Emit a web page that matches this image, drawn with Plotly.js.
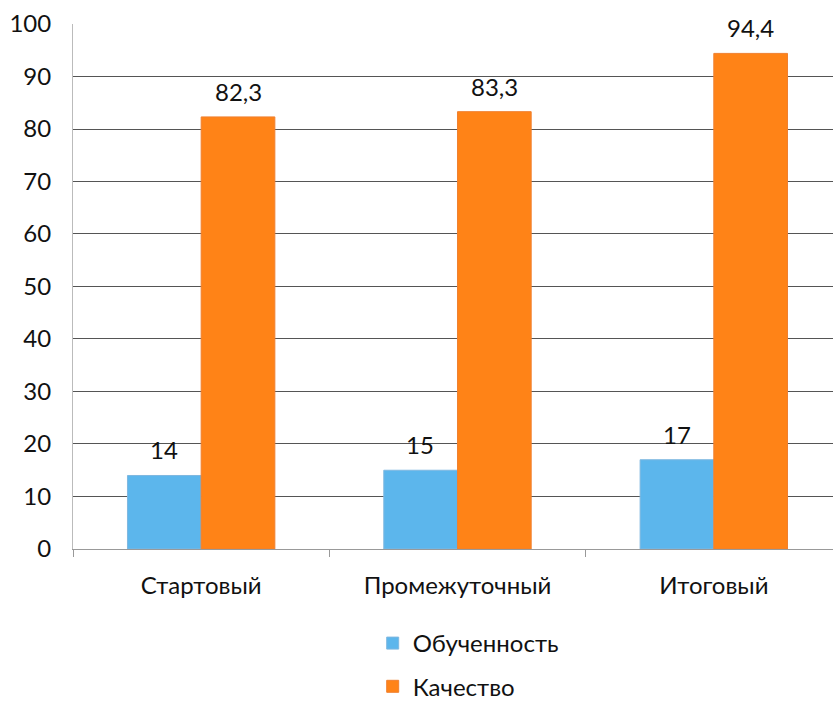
<!DOCTYPE html>
<html><head><meta charset="utf-8">
<script src="https://cdn.plot.ly/plotly-3.0.1.min.js"></script>
<style>html,body{margin:0;padding:0;background:#fff}</style>
</head><body><div id="chart" style="width:833px;height:709px"></div>
<script>
const categories = ['Стартовый', 'Промежуточный', 'Итоговый'];
const obuchennost = [14, 15, 17];
const kachestvo = [82.3, 83.3, 94.4];
const seriesNames = ['Обученность', 'Качество'];
const yTicks = [0, 10, 20, 30, 40, 50, 60, 70, 80, 90, 100];

const fmt = v => String(v).replace('.', ',');
const FONT = 'Lato, "Open Sans", sans-serif';
const FS = 24;

const traces = [
  {type:'bar', name:seriesNames[0], x:categories, y:obuchennost,
   marker:{color:'#5CB6EC', line:{color:'#7FB8E0', width:1}}, legendgroup:'a'},
  {type:'bar', name:seriesNames[1], x:categories, y:kachestvo,
   marker:{color:'#FF8317', line:{color:'#F08030', width:1}}, legendgroup:'b'}
];

const annotations = [];
[[obuchennost, -37], [kachestvo, 37]].forEach(([vals, dx]) => {
  vals.forEach((v, i) => annotations.push({
    x: categories[i], y: v, xref:'x', yref:'y', text: fmt(v), showarrow:false,
    xshift: dx, yanchor:'bottom', yshift: 9, font:{size:FS, family:FONT, color:'#111'}
  }));
});

const layout = {
  width:833, height:709,
  margin:{l:73, r:0, t:24, b:0},
  paper_bgcolor:'#fff', plot_bgcolor:'#fff',
  font:{family:FONT, size:FS, color:'#111'},
  barmode:'group', bargap:0.425, bargroupgap:0,
  annotations,
  xaxis:{type:'category', range:[-0.5, 2.465], tickson:'boundaries', ticks:'outside',
         ticklen:7, tickcolor:'#999', showline:true, linecolor:'#999', linewidth:1,
         tickfont:{size:FS, family:FONT}, showgrid:false, ticklabelstandoff:15},
  yaxis:{domain:[0.2336, 1], range:[0, 100], tickvals:yTicks, ticks:'', showgrid:true,
         gridcolor:'#555', gridwidth:1, zeroline:false, showline:true, linecolor:'#bbb',
         tickfont:{size:FS, family:FONT}, ticklabelstandoff:16},
  showlegend:true,
  legend:{orientation:'v', x:0.52, xanchor:'center', y:0, yanchor:'bottom',
          traceorder:'grouped', tracegroupgap:9, font:{size:FS, family:FONT},
          itemwidth:30}
};

Plotly.newPlot('chart', traces, layout, {displayModeBar:false, staticPlot:true});
</script></body></html>
